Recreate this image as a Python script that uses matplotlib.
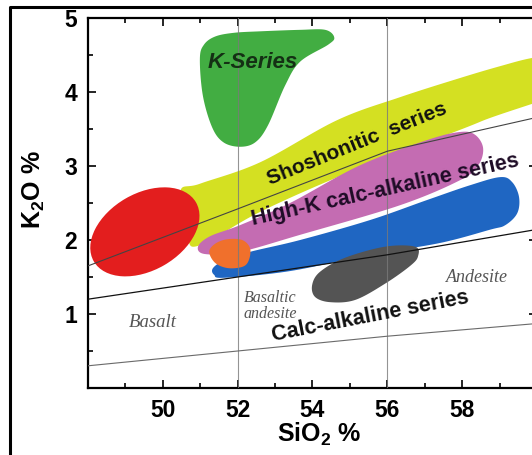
import numpy as np
import matplotlib.pyplot as plt
from matplotlib.lines import Line2D
from matplotlib.patches import Ellipse
from matplotlib.transforms import ScaledTranslation

plt.rcParams['mathtext.fontset'] = 'custom'
plt.rcParams['mathtext.bf'] = 'Liberation Sans:bold'
plt.rcParams['mathtext.rm'] = 'Liberation Sans'

# boundary lines (Peccerillo & Taylor style), SiO2 vs K2O
line_lo_x = [48, 52, 56, 63]
line_lo_y = [0.30, 0.50, 0.70, 1.00]
line_mid_x = [48, 52, 56, 63]
line_mid_y = [1.20, 1.50, 1.80, 2.40]
line_hi_x = [48, 52, 56, 63]
line_hi_y = [1.65, 2.42, 3.20, 4.00]

# field outlines (control points, data units)
green_x = [50.99, 51.10, 51.40, 51.90, 52.60, 53.67, 54.34, 54.58, 54.42, 53.67, 53.27, 52.81, 52.47, 52.06, 51.62, 51.32, 51.07]
green_y = [4.45, 4.64, 4.75, 4.80, 4.82, 4.84, 4.84, 4.74, 4.64, 4.41, 4.09, 3.55, 3.32, 3.26, 3.32, 3.52, 3.95]

yellow_x = [50.46, 50.99, 52.60, 54.66, 56.34, 57.95, 59.02, 59.87, 60.75, 61.16, 61.02, 59.87, 58.75, 57.95, 55.01, 52.60, 51.00, 50.65]
yellow_y = [2.65, 2.76, 3.05, 3.62, 3.93, 4.19, 4.35, 4.46, 4.51, 4.43, 4.03, 3.84, 3.65, 3.49, 2.92, 2.38, 1.93, 2.05]

# red field: tilted ellipse (centre in data units, size in inches, angle in degrees)
red_cx, red_cy = 49.52, 2.11
red_w, red_h, red_angle = 1.18, 0.77, 30

pink_x = [50.94, 51.26, 52.06, 53.40, 55.27, 57.06, 57.95, 58.35, 58.56, 58.43, 57.95, 56.34, 53.67, 52.06, 51.13]
pink_y = [1.91, 2.05, 2.20, 2.50, 3.01, 3.35, 3.46, 3.42, 3.24, 3.01, 2.81, 2.47, 2.07, 1.84, 1.81]

blue_x = [51.34, 51.66, 52.33, 53.67, 55.54, 57.06, 58.21, 59.02, 59.34, 59.52, 59.47, 59.15, 58.75, 57.41, 55.54, 53.40, 51.66, 51.37]
blue_y = [1.62, 1.73, 1.84, 2.00, 2.27, 2.54, 2.74, 2.85, 2.78, 2.58, 2.36, 2.20, 2.14, 1.96, 1.80, 1.58, 1.49, 1.53]

orange_x = [51.24, 51.40, 51.72, 52.12, 52.33, 52.30, 52.14, 51.74, 51.40]
orange_y = [1.84, 1.95, 2.01, 2.00, 1.89, 1.73, 1.64, 1.62, 1.69]

grey_x = [53.99, 54.20, 54.87, 55.94, 56.74, 56.82, 56.61, 55.94, 55.14, 54.47, 54.07]
grey_y = [1.39, 1.57, 1.76, 1.91, 1.91, 1.78, 1.65, 1.41, 1.19, 1.16, 1.23]


def smooth(xs, ys, n=16):
    # closed Catmull-Rom curve through the control points
    p = np.column_stack([xs, ys])
    q = np.vstack([p[-1], p, p[0], p[1]])
    t = np.linspace(0, 1, n, endpoint=False)[:, None]
    out = []
    for i in range(1, len(p) + 1):
        p0, p1, p2, p3 = q[i - 1], q[i], q[i + 1], q[i + 2]
        out.append(0.5 * (2 * p1 + (p2 - p0) * t
                          + (2 * p0 - 5 * p1 + 4 * p2 - p3) * t ** 2
                          + (3 * p1 - p0 - 3 * p2 + p3) * t ** 3))
    c = np.vstack(out)
    return c[:, 0], c[:, 1]


fig = plt.figure(figsize=(5.32, 4.55), dpi=100)
ax = fig.add_axes([88 / 532, 67 / 455, 449 / 532, 370 / 455])

bold = dict(family='Liberation Sans', weight='bold')
serif = dict(family='Liberation Serif', style='italic', color='#555555')

ax.axvline(52, color='#7a7a7a', lw=0.8, alpha=0.8, zorder=3)
ax.axvline(56, color='#7a7a7a', lw=0.8, alpha=0.8, zorder=3)

sx, sy = smooth(yellow_x, yellow_y)
ax.fill(sx, sy, color='#d4e022', lw=0, zorder=2)
ax.add_patch(Ellipse((0, 0), red_w, red_h, angle=red_angle, color='#e31e1e', lw=0, zorder=2,
                     transform=fig.dpi_scale_trans + ScaledTranslation(red_cx, red_cy, ax.transData)))
for xs, ys, col in [(pink_x, pink_y, '#c46cb2'), (blue_x, blue_y, '#1f66c2'),
                    (orange_x, orange_y, '#f0702c'), (grey_x, grey_y, '#545454'),
                    (green_x, green_y, '#42ad42')]:
    sx, sy = smooth(xs, ys)
    ax.fill(sx, sy, color=col, lw=0, zorder=2)

ax.plot(line_lo_x, line_lo_y, color='#6a6a6a', lw=0.8, zorder=3)
ax.plot(line_mid_x, line_mid_y, color='#111111', lw=0.9, zorder=3)
ax.plot(line_hi_x, line_hi_y, color='#444444', lw=0.8, zorder=3)

ax.text(52.39, 4.40, 'K-Series', color='#143014', fontsize=16, style='italic', ha='center', va='center', zorder=4, **bold)
ax.text(55.20, 3.30, 'Shoshonitic  series', color='#111111', fontsize=15, rotation=22, ha='center', va='center', zorder=4, **bold)
ax.text(55.95, 2.68, 'High-K calc-alkaline series', color='#1e0c26', fontsize=15.5, rotation=12.5, ha='center', va='center', zorder=4, **bold)
ax.text(55.55, 0.97, 'Calc-alkaline series', color='#111111', fontsize=15.5, rotation=11, ha='center', va='center', zorder=4, **bold)
ax.text(49.72, 0.88, 'Basalt', fontsize=13.5, ha='center', va='center', zorder=4, **serif)
ax.text(52.87, 1.11, 'Basaltic\nandesite', fontsize=11.5, ha='center', va='center', linespacing=1.05, zorder=4, **serif)
ax.text(58.40, 1.50, 'Andesite', fontsize=13, ha='center', va='center', zorder=4, **serif)

ax.set_xlim(48, 60)
ax.set_ylim(0, 5)
ax.set_xticks([50, 52, 54, 56, 58])
ax.set_xticks(np.arange(49, 60, 1), minor=True)
ax.set_yticks([1, 2, 3, 4, 5])
ax.set_yticks(np.arange(0.5, 5, 0.5), minor=True)
ax.tick_params(which='both', direction='in', top=True, right=True, width=1.2)
ax.tick_params(which='major', length=6, pad=8, labelsize=16.5)
ax.tick_params(which='minor', length=3.5)
for lab in ax.get_xticklabels() + ax.get_yticklabels():
    lab.set_fontfamily('Liberation Sans')
    lab.set_fontweight('bold')
for s in ax.spines.values():
    s.set_linewidth(1.6)

ax.set_xlabel('SiO$_\\mathbf{2}$ %', fontsize=18, **bold)
ax.set_ylabel('K$_\\mathbf{2}$O %', fontsize=18, **bold)
ax.xaxis.set_label_coords((319 - 88) / 449, -(421 - 388) / 370)
ax.yaxis.set_label_coords(-(88 - 47) / 449, (388 - 190) / 370)

# outer frame of the cropped figure
fx = 10 / 532
fy = 1 - 7 / 455
fig.add_artist(Line2D([fx, fx, 1], [0, fy, fy], transform=fig.transFigure, color='black', lw=2.2))

fig.savefig('out.png', dpi=100)
